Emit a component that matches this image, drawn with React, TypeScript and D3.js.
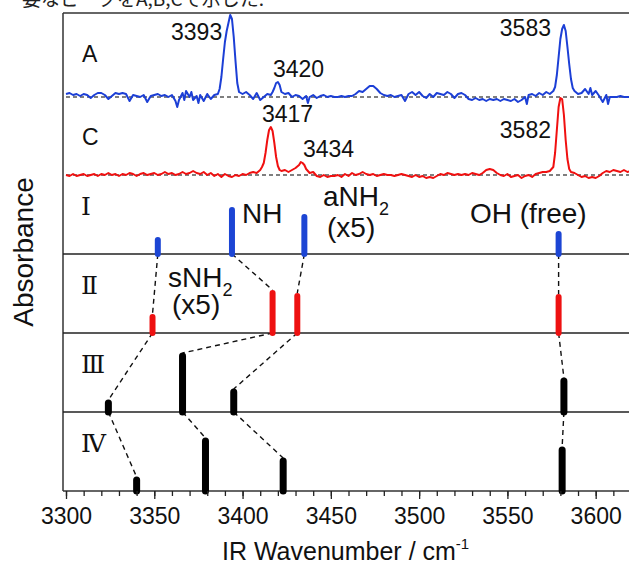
import React, { useEffect, useRef } from "react";
import * as d3 from "d3";

const width = 629;
const height = 565;

// spectrum A (blue) : [wavenumber, absorbance (arb.)]
const traceA: [number, number][] = [
  [3300, 3], [3302, 4], [3304, 2], [3306, 3], [3308, 1], [3310, 3], [3312, 2], [3314, -1],
  [3316, 2], [3318, 4], [3320, 4], [3322, 2], [3324, -2], [3326, 1], [3328, 4], [3330, 3],
  [3332, 4], [3334, 3], [3336, -4], [3338, 2], [3340, 1], [3342, 0], [3344, 2], [3346, -5],
  [3348, 1], [3350, 2], [3352, 3], [3354, 1], [3356, 2], [3358, 0], [3360, 2], [3362, -4],
  [3363, -10], [3364, -3], [3366, 4], [3367, -3], [3368, 6], [3370, 0], [3371, 5], [3372, -3],
  [3374, 1], [3375, -6], [3376, 2], [3378, -4], [3380, 3], [3382, -2], [3384, 2], [3386, 3],
  [3387, 8], [3388, 20], [3389, 38], [3390, 55], [3391, 66], [3392, 74], [3393, 82], [3394, 78],
  [3395, 60], [3396, 36], [3397, 14], [3398, 5], [3400, 3], [3402, 5], [3404, 2], [3406, -2],
  [3408, 4], [3410, -3], [3412, 0], [3414, 3], [3416, 2], [3417, 5], [3418, 9], [3419, 14],
  [3420, 15], [3421, 12], [3422, 5], [3424, 3], [3426, 4], [3428, 0], [3430, 2], [3432, 1],
  [3434, -2], [3436, 1], [3437, -6], [3438, 0], [3440, 2], [3442, -1], [3444, 1], [3446, 2],
  [3448, 0], [3450, 1], [3452, 0], [3454, 0], [3456, 1], [3458, 0], [3460, 1], [3462, 1],
  [3464, 3], [3466, 6], [3468, 5], [3470, 8], [3472, 11], [3474, 11], [3476, 8], [3478, 4],
  [3480, 2], [3482, 1], [3484, 2], [3486, 0], [3488, 1], [3490, 2], [3492, -4], [3494, 3],
  [3496, 5], [3498, 2], [3500, 5], [3502, 1], [3504, -1], [3506, 3], [3508, 0], [3510, 4],
  [3512, 3], [3514, 2], [3516, 5], [3518, 3], [3520, -1], [3522, 3], [3524, 4], [3526, 2],
  [3528, -2], [3530, -3], [3532, -1], [3534, -3], [3536, -2], [3538, -4], [3540, -2], [3542, -3],
  [3544, -2], [3546, -4], [3548, -2], [3550, -3], [3552, -4], [3554, -2], [3556, -5], [3558, -3],
  [3560, 0], [3561, -7], [3562, 2], [3564, 3], [3566, 1], [3568, 4], [3570, 2], [3572, 5],
  [3574, 3], [3576, 6], [3577, 10], [3578, 22], [3579, 40], [3580, 58], [3581, 68], [3582, 72],
  [3583, 66], [3584, 50], [3585, 33], [3586, 18], [3587, 9], [3588, 6], [3590, 3], [3592, 4],
  [3594, 8], [3596, 3], [3597, 9], [3598, 2], [3600, 6], [3602, 1], [3604, -5], [3606, 2],
  [3607, -7], [3608, 0], [3610, 0], [3612, 0], [3614, 1], [3616, 0], [3618, 0], [3620, 0],
];

// spectrum C (red)
const traceC: [number, number][] = [
  [3300, 0], [3302, -1], [3304, 1], [3306, -1], [3308, 0], [3310, 1], [3312, -1], [3314, 0],
  [3316, 1], [3318, -1], [3320, 1], [3322, 0], [3324, 2], [3326, 0], [3328, 1], [3330, -1],
  [3332, 1], [3334, 0], [3336, 2], [3338, 1], [3340, -1], [3342, 1], [3344, 2], [3346, 0],
  [3348, 1], [3350, 2], [3352, 0], [3354, 1], [3356, 3], [3358, 1], [3360, 2], [3362, 0],
  [3364, 1], [3366, 3], [3368, 1], [3370, 2], [3372, 4], [3374, 2], [3376, 1], [3378, 3],
  [3380, 0], [3382, 2], [3384, -1], [3386, 1], [3388, -2], [3390, 1], [3392, -1], [3394, -2],
  [3396, 0], [3398, -1], [3400, 1], [3402, 0], [3404, 2], [3406, 3], [3408, 2], [3410, 5],
  [3411, 8], [3412, 12], [3413, 22], [3414, 35], [3415, 45], [3416, 48], [3417, 44], [3418, 32],
  [3419, 18], [3420, 9], [3421, 5], [3422, 4], [3424, 5], [3426, 3], [3428, 5], [3430, 7],
  [3432, 10], [3433, 13], [3434, 12], [3435, 10], [3436, 6], [3438, 2], [3440, 3], [3442, -1],
  [3444, -2], [3446, 0], [3448, -2], [3450, -1], [3452, -1], [3454, 0], [3456, -2], [3458, 1],
  [3460, -1], [3462, 2], [3464, 0], [3466, 1], [3468, 3], [3470, 1], [3472, 0], [3474, 1],
  [3476, -1], [3478, 0], [3480, 1], [3482, 0], [3484, 0], [3486, -1], [3488, 0], [3490, 1],
  [3492, 0], [3494, -1], [3496, -2], [3498, 0], [3500, -2], [3502, -1], [3504, -3], [3506, -2],
  [3508, -3], [3510, -1], [3512, 1], [3514, 0], [3516, 2], [3518, 1], [3520, 0], [3522, 1],
  [3524, 0], [3526, 1], [3528, 0], [3530, 2], [3532, 1], [3534, 0], [3536, 2], [3538, 5],
  [3540, 6], [3542, 5], [3544, 2], [3546, 0], [3548, -1], [3550, 1], [3552, -2], [3554, -1],
  [3556, 0], [3558, -3], [3560, -1], [3562, 0], [3564, -2], [3566, 1], [3568, 2], [3570, 3],
  [3572, 3], [3574, 4], [3576, 8], [3577, 22], [3578, 45], [3579, 68], [3580, 77], [3581, 76],
  [3582, 60], [3583, 35], [3584, 16], [3585, 6], [3586, 3], [3588, 2], [3590, 0], [3592, -2],
  [3594, -1], [3596, -3], [3598, -2], [3600, -3], [3602, -1], [3604, 2], [3606, 4], [3608, 3],
  [3610, 5], [3612, 4], [3614, 3], [3616, 5], [3618, 3], [3620, 4],
];

// calculated stick spectra : [wavenumber, intensity (arb.)]
const sticksI: [number, number][] = [[3352, 17], [3394, 47], [3435, 40], [3579, 23]];
const sticksII: [number, number][] = [[3349, 19], [3417, 43], [3431, 40], [3579, 39]];
const sticksIII: [number, number][] = [[3324, 12], [3366, 59], [3395, 23], [3582, 34]];
const sticksIV: [number, number][] = [[3340, 14], [3379, 53], [3423, 33], [3581, 44]];
const panelNames = ["Ⅰ", "Ⅱ", "Ⅲ", "Ⅳ"];
const panelColors = ["#1c45d4", "#ee1111", "#000", "#000"];

const majorTicks = d3.range(3300, 3601, 50);
const minorTicks = d3.range(3300, 3621, 10);

const font = "'Liberation Sans', Arial, sans-serif";

export default function App() {
  const majorRef = useRef<SVGGElement>(null);
  const minorRef = useRef<SVGGElement>(null);

  const x = d3.scaleLinear().domain([3300, 3620]).range([66, 631]);
  const yA = d3.scaleLinear().domain([0, 100]).range([97, -3]);
  const yC = d3.scaleLinear().domain([0, 100]).range([175, 75]);
  const base = d3.scaleLinear().domain([0, 3]).range([254, 491]);
  const h = d3.scaleLinear().domain([0, 100]).range([0, 100]);

  const line = d3.line<[number, number]>().x((d) => x(d[0]));
  const pathA = line.y((d) => yA(d[1]))(traceA) || "";
  const pathC = line.y((d) => yC(d[1]))(traceC) || "";

  const panels = [sticksI, sticksII, sticksIII, sticksIV];

  useEffect(() => {
    const major = d3.select(majorRef.current!);
    major.call(
      d3.axisBottom(x).tickValues(majorTicks).tickSize(8).tickPadding(9).tickFormat(d3.format("d"))
    );
    major.select(".domain").remove();
    major.selectAll("line").attr("stroke", "#222").attr("stroke-width", 1.3);
    major.selectAll("text").attr("font-family", font).attr("font-size", 23).attr("fill", "#111");
    major.attr("font-family", null).attr("font-size", null);

    const minor = d3.select(minorRef.current!);
    minor.call(d3.axisBottom(x).tickValues(minorTicks).tickSize(5).tickFormat(() => ""));
    minor.select(".domain").remove();
    minor.selectAll("line").attr("stroke", "#222").attr("stroke-width", 1.3);
  }, []);

  const left = 63;
  const top = 13;
  const bottom = 491;

  return (
    <svg
      width={width}
      height={height}
      style={{ position: "absolute", left: 0, top: 0, background: "#fff" }}
    >
      <text x={22} y={6} fontFamily="'Noto Sans CJK JP'" fontSize={19} fill="#222">
        要なピークをA,B,Cで示した.
      </text>

      {/* frame */}
      <line x1={left} x2={width} y1={top} y2={top} stroke="#333" strokeWidth={1.5} />
      <line x1={left} x2={left} y1={top} y2={bottom} stroke="#333" strokeWidth={1.5} />
      <line x1={left} x2={width} y1={bottom} y2={bottom} stroke="#333" strokeWidth={1.5} />

      {/* experimental spectra */}
      <line x1={x(3300)} x2={width} y1={yA(0)} y2={yA(0)} stroke="#000" strokeWidth={1.2} strokeDasharray="4,3" />
      <line x1={x(3300)} x2={width} y1={yC(0)} y2={yC(0)} stroke="#000" strokeWidth={1.2} strokeDasharray="4,3" />
      <path d={pathA} fill="none" stroke="#1c3fd6" strokeWidth={2} strokeLinejoin="round" />
      <path d={pathC} fill="none" stroke="#f01010" strokeWidth={2} strokeLinejoin="round" />

      <g fontFamily={font} fontSize={23} fill="#111">
        <text x={82} y={62}>A</text>
        <text x={82} y={145}>C</text>
        <text x={x(3393) - 8} y={40} textAnchor="end">3393</text>
        <text x={273} y={77}>3420</text>
        <text x={262} y={122}>3417</text>
        <text x={303} y={157}>3434</text>
        <text x={551} y={36} textAnchor="end">3583</text>
        <text x={551} y={138} textAnchor="end">3582</text>
      </g>

      {/* panel separators */}
      {[0, 1, 2].map((i) => (
        <line key={i} x1={left} x2={width} y1={base(i)} y2={base(i)} stroke="#222" strokeWidth={1.5} />
      ))}

      {/* dashed correlation lines */}
      {panels.slice(0, 3).map((up, i) =>
        up.map((s, j) => {
          const lo = panels[i + 1][j];
          return (
            <line
              key={`c${i}-${j}`}
              x1={x(s[0])}
              y1={base(i)}
              x2={x(lo[0])}
              y2={base(i + 1) - h(lo[1])}
              stroke="#111"
              strokeWidth={1.4}
              strokeDasharray="5,4"
            />
          );
        })
      )}

      {/* sticks */}
      {panels.map((p, i) =>
        p.map((s, j) => (
          <line
            key={`s${i}-${j}`}
            x1={x(s[0])}
            x2={x(s[0])}
            y1={base(i)}
            y2={base(i) - h(s[1]) + 3}
            stroke={panelColors[i]}
            strokeWidth={i < 2 ? 6 : 7}
            strokeLinecap="round"
          />
        ))
      )}

      {/* panel labels */}
      <g fontFamily="'DejaVu Serif', 'Liberation Serif', serif" fontSize={25} fill="#111">
        {panelNames.map((n, i) => (
          <text key={n} x={81} y={base(i) - 39}>{n}</text>
        ))}
      </g>

      <g fontFamily={font} fontSize={28} fill="#111">
        <text x={242} y={223}>NH</text>
        <text x={323} y={206}>
          aNH<tspan fontSize={18} dy={9}>2</tspan>
        </text>
        <text x={327} y={237}>(x5)</text>
        <text x={470} y={223}>OH (free)</text>
        <text x={168} y={287}>
          sNH<tspan fontSize={18} dy={9}>2</tspan>
        </text>
        <text x={172} y={314}>(x5)</text>
      </g>

      {/* x axis */}
      <g ref={minorRef} transform={`translate(0,${bottom})`} />
      <g ref={majorRef} transform={`translate(0,${bottom})`} />

      <text x={222} y={560} fontFamily={font} fontSize={25} fill="#111">
        IR Wavenumber / cm<tspan fontSize={15} dy={-11}>-1</tspan>
      </text>
      <text
        transform="translate(33,252) rotate(-90)"
        textAnchor="middle"
        fontFamily={font}
        fontSize={28}
        fill="#111"
      >
        Absorbance
      </text>
    </svg>
  );
}
